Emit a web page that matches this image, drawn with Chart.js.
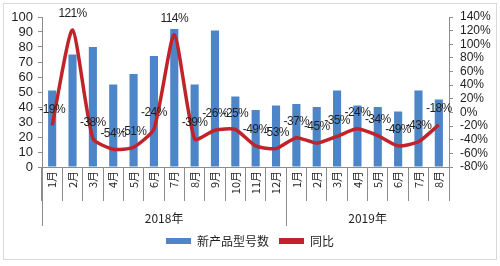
<!DOCTYPE html>
<html>
<head>
<meta charset="utf-8">
<script src="https://cdn.jsdelivr.net/npm/chart.js@4"></script>
<style>
  html, body { margin: 0; padding: 0; background: #fff; }
  #wrap { width: 500px; height: 266px; }
</style>
</head>
<body>
<div id="wrap"><canvas id="newModelChart" width="500" height="266"></canvas></div>
<script>
// ─── DATA ───
const months = ['1月','2月','3月','4月','5月','6月','7月','8月','9月','10月','11月','12月',
                '1月','2月','3月','4月','5月','6月','7月','8月'];
const yearLabels = ['2018年', '2019年'];
const yearStarts = [0, 12];
const yearEnds = [11, 19];
const newModelCounts = [51, 75, 80, 55, 62, 74, 92, 55, 91, 47, 38, 41, 42, 40, 51, 41, 40, 37, 51, 45];
const yoyPct = [-19, 121, -38, -54, -51, -24, 114, -39, -26, -25, -49, -53, -37, -45, -35, -24, -34, -49, -43, -18];

const BLUE = '#4d86c8';
const RED = '#c0232a';
const AXIS = '#8c8c8c';
const TEXT = '#1f1f1f';
const FONT = "'Liberation Sans', Arial, sans-serif";
const CJK = "'Noto Sans CJK SC', 'Noto Sans', sans-serif";

// ─── PLUGINS ───
// outer frame of the chart
const framePlugin = {
    id: 'frame',
    beforeDraw(chart) {
        const c = chart.ctx;
        c.save();
        c.fillStyle = '#fff';
        c.fillRect(0, 0, chart.width, chart.height);
        c.strokeStyle = '#d9d9d9';
        c.lineWidth = 1;
        c.strokeRect(3.5, 3.5, chart.width - 7, chart.height - 10);
        c.restore();
    }
};

// year group labels + long separators under the month axis
const yearGroupPlugin = {
    id: 'yearGroups',
    afterDraw(chart) {
        const x = chart.scales.x;
        const c = chart.ctx;
        const top = chart.chartArea.bottom;
        c.save();
        c.strokeStyle = AXIS;
        c.lineWidth = 1;
        const seps = [chart.chartArea.left];
        for (let i = 1; i < yearStarts.length; i++) {
            seps.push((x.getPixelForValue(yearStarts[i] - 1) + x.getPixelForValue(yearStarts[i])) / 2);
        }
        seps.forEach(px => {
            c.beginPath();
            c.moveTo(Math.round(px) + 0.5, top);
            c.lineTo(Math.round(px) + 0.5, top + 59);
            c.stroke();
        });
        c.fillStyle = TEXT;
        c.font = '12px ' + CJK;
        c.textAlign = 'center';
        c.textBaseline = 'middle';
        yearLabels.forEach((lbl, i) => {
            const cx = (x.getPixelForValue(yearStarts[i]) + x.getPixelForValue(yearEnds[i])) / 2;
            c.fillText(lbl, cx, top + 51);
        });
        c.restore();
    }
};

// percentage labels above the line points
const pctLabelPlugin = {
    id: 'pctLabels',
    afterDatasetsDraw(chart) {
        const meta = chart.getDatasetMeta(1);
        const c = chart.ctx;
        c.save();
        c.fillStyle = TEXT;
        c.font = '12px ' + FONT;
        c.letterSpacing = '-0.6px';
        c.textAlign = 'center';
        c.textBaseline = 'middle';
        meta.data.forEach((pt, i) => {
            c.fillText(yoyPct[i] + '%', pt.x, pt.y - 16);
        });
        c.restore();
    }
};

// ─── CHART ───
const ctx = document.getElementById('newModelChart').getContext('2d');
const newModelChart = new Chart(ctx, {
    data: {
        labels: months,
        datasets: [
            {
                type: 'bar',
                label: '新产品型号数',
                data: newModelCounts,
                backgroundColor: BLUE,
                barPercentage: 0.4,
                categoryPercentage: 1,
                yAxisID: 'y',
                order: 2
            },
            {
                type: 'line',
                label: '同比',
                data: yoyPct,
                borderColor: RED,
                backgroundColor: RED,
                borderWidth: 3.5,
                pointRadius: 0,
                tension: 0.2,
                yAxisID: 'y1',
                order: 1
            }
        ]
    },
    options: {
        responsive: false,
        animation: false,
        layout: { padding: { top: 17, left: 4, right: 4, bottom: 9 } },
        scales: {
            x: {
                grid: {
                    display: true,
                    drawOnChartArea: false,
                    offset: true,
                    tickLength: 34,
                    color: AXIS
                },
                border: { color: AXIS },
                ticks: {
                    autoSkip: false,
                    minRotation: 90,
                    maxRotation: 90,
                    padding: -30,
                    color: TEXT,
                    font: { family: CJK, size: 11 }
                },
                afterFit(scale) { scale.height = 58; }
            },
            y: {
                position: 'left',
                min: 0,
                max: 100,
                ticks: {
                    stepSize: 10,
                    autoSkip: false,
                    padding: 5,
                    color: TEXT,
                    font: { family: FONT, size: 13 }
                },
                grid: { drawOnChartArea: false, tickLength: 4, color: AXIS },
                border: { color: AXIS },
                afterFit(scale) { scale.width = 38; }
            },
            y1: {
                position: 'right',
                min: -80,
                max: 140,
                ticks: {
                    stepSize: 20,
                    autoSkip: false,
                    padding: 7,
                    color: TEXT,
                    font: { family: FONT, size: 12 },
                    callback: v => v + '%'
                },
                grid: { drawOnChartArea: false, tickLength: 4, color: AXIS },
                border: { color: AXIS },
                afterFit(scale) { scale.width = 47; }
            }
        },
        plugins: {
            legend: {
                position: 'bottom',
                labels: {
                    boxWidth: 25,
                    boxHeight: 6,
                    padding: 10,
                    color: TEXT,
                    font: { family: CJK, size: 12 },
                    generateLabels(chart) {
                        return chart.data.datasets.map((ds, i) => ({
                            text: ds.label,
                            fillStyle: i === 0 ? BLUE : RED,
                            strokeStyle: i === 0 ? BLUE : RED,
                            lineWidth: 0,
                            hidden: false,
                            datasetIndex: i,
                            fontColor: TEXT
                        }));
                    }
                }
            },
            tooltip: { enabled: false }
        }
    },
    plugins: [framePlugin, yearGroupPlugin, pctLabelPlugin]
});
</script>
</body>
</html>
